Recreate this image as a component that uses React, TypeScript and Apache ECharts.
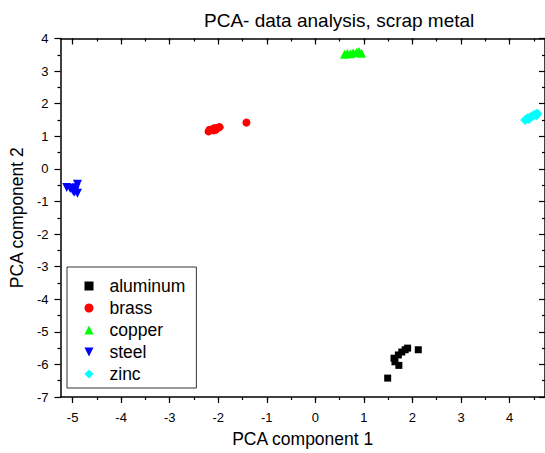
import React, { useEffect, useRef } from "react";
import * as echarts from "echarts";

const seriesNames = ["aluminum", "brass", "copper", "steel", "zinc"];

const aluminum: number[][] = [
  [1.49, -6.42], [2.12, -5.55], [1.72, -6.03], [1.62, -5.81], [1.64, -5.92],
  [1.71, -5.71], [1.78, -5.62], [1.85, -5.55], [1.9, -5.5],
];
const brass: number[][] = [
  [-2.2, 1.15], [-2.18, 1.2], [-2.12, 1.22], [-2.08, 1.25], [-2.05, 1.2],
  [-2.0, 1.27], [-1.97, 1.28], [-2.1, 1.18], [-1.42, 1.42],
];
const copper: number[][] = [
  [0.6, 3.52], [0.66, 3.55], [0.72, 3.53], [0.78, 3.56], [0.85, 3.58],
  [0.9, 3.6], [0.95, 3.55],
];
const steel: number[][] = [
  [-5.12, -0.57], [-5.05, -0.6], [-5.0, -0.65], [-4.95, -0.68], [-4.9, -0.47],
  [-4.93, -0.58], [-4.9, -0.75], [-4.97, -0.72],
];
const zinc: number[][] = [
  [4.32, 1.5], [4.37, 1.55], [4.42, 1.58], [4.47, 1.62], [4.52, 1.66],
  [4.57, 1.7], [4.55, 1.64], [4.4, 1.53],
];

const xMajorTicks = [-5, -4, -3, -2, -1, 0, 1, 2, 3, 4];
const xMinorTicks = [-5, -4.5, -4, -3.5, -3, -2.5, -2, -1.5, -1, -0.5, 0, 0.5, 1, 1.5, 2, 2.5, 3, 3.5, 4, 4.5];

const XMIN = -5.25;
const XMAX = 4.73;
const YMIN = -7;
const YMAX = 4;

const FONT = "'Liberation Sans', Arial, sans-serif";
const DOWN_TRIANGLE = "path://M0,0 L10,0 L5,10 Z";

export default function App() {
  const ref = useRef<HTMLDivElement>(null);
  useEffect(() => {
    if (!ref.current) return;
    const chart = echarts.init(ref.current, undefined, { renderer: "svg" });
    const axisLine = { show: true, onZero: false, lineStyle: { color: "#000", width: 1.5 } };
    const noLine = { show: false, onZero: false };
    const tickStyle = { color: "#000", width: 1.2 };
    const baseX = {
      type: "value",
      min: XMIN,
      max: XMAX,
      splitLine: { show: false },
    };
    const option: any = {
      animation: false,
      backgroundColor: "#fff",
      textStyle: { fontFamily: FONT },
      title: {
        text: "PCA- data analysis, scrap metal",
        left: 199,
        top: 6,
        textStyle: { fontFamily: FONT, fontSize: 19, fontWeight: "normal", color: "#000" },
      },
      grid: { left: 57, right: -1, top: 38.5, bottom: 56 },
      legend: {
        orient: "vertical",
        left: 67,
        top: 267,
        data: seriesNames.map((n) => (n === "steel" ? { name: n, icon: DOWN_TRIANGLE } : { name: n })),
        itemWidth: 9,
        itemHeight: 9,
        itemGap: 4,
        padding: [10, 11, 5, 17.5],
        borderColor: "#333",
        borderWidth: 1,
        itemStyle: { opacity: 1 },
        textStyle: { fontFamily: FONT, fontSize: 17.5, color: "#000", lineHeight: 18, padding: [0, 0, 0, 11] },
      },
      xAxis: [
        {
          ...baseX,
          position: "bottom",
          axisLine,
          axisTick: { show: true, length: 6, customValues: xMajorTicks, lineStyle: tickStyle },
          axisLabel: { show: true, customValues: xMajorTicks, fontSize: 13, margin: 14, color: "#000", fontFamily: FONT },
          name: "PCA component 1",
          nameLocation: "middle",
          nameGap: 33,
          nameTextStyle: { fontFamily: FONT, fontSize: 17.5, color: "#000" },
        },
        {
          ...baseX,
          position: "bottom",
          axisLine: noLine,
          axisTick: { show: true, length: 3, customValues: xMinorTicks, lineStyle: tickStyle },
          axisLabel: { show: false },
        },
        {
          ...baseX,
          position: "top",
          axisLine,
          axisTick: { show: true, inside: true, length: 6, customValues: xMajorTicks, lineStyle: tickStyle },
          axisLabel: { show: false },
        },
        {
          ...baseX,
          position: "top",
          axisLine: noLine,
          axisTick: { show: true, inside: true, length: 3, customValues: xMinorTicks, lineStyle: tickStyle },
          axisLabel: { show: false },
        },
      ],
      yAxis: [
        {
          type: "value",
          position: "left",
          min: YMIN,
          max: YMAX,
          interval: 1,
          splitLine: { show: false },
          axisLine,
          axisTick: { show: true, length: 6, lineStyle: tickStyle },
          minorTick: { show: true, splitNumber: 2, length: 3, lineStyle: tickStyle },
          axisLabel: { fontSize: 13, margin: 12, color: "#000", fontFamily: FONT },
          name: "PCA component 2",
          nameLocation: "middle",
          nameRotate: 90,
          nameGap: 33,
          nameTextStyle: { fontFamily: FONT, fontSize: 17.5, color: "#000" },
        },
        {
          type: "value",
          position: "right",
          min: YMIN,
          max: YMAX,
          interval: 1,
          splitLine: { show: false },
          axisLine,
          axisTick: { show: true, inside: true, length: 6, lineStyle: tickStyle },
          minorTick: { show: true, splitNumber: 2, length: 3, lineStyle: tickStyle },
          axisLabel: { show: false },
        },
      ],
      series: [
        { name: "aluminum", type: "scatter", data: aluminum, symbol: "rect", symbolSize: 7, itemStyle: { color: "#000000", opacity: 1 } },
        { name: "brass", type: "scatter", data: brass, symbol: "circle", symbolSize: 8, itemStyle: { color: "#ff0000", opacity: 1 } },
        { name: "copper", type: "scatter", data: copper, symbol: "triangle", symbolSize: 9, itemStyle: { color: "#00ff00", opacity: 1 } },
        { name: "steel", type: "scatter", data: steel, symbol: "triangle", symbolRotate: 180, symbolSize: 9, itemStyle: { color: "#0000ff", opacity: 1 } },
        { name: "zinc", type: "scatter", data: zinc, symbol: "diamond", symbolSize: 10, itemStyle: { color: "#00ffff", opacity: 1 } },
      ],
    };
    chart.setOption(option);
    return () => chart.dispose();
  }, []);
  return (
    <div
      ref={ref}
      style={{ position: "fixed", left: 0, top: 0, width: 545, height: 453, background: "#fff" }}
    />
  );
}
